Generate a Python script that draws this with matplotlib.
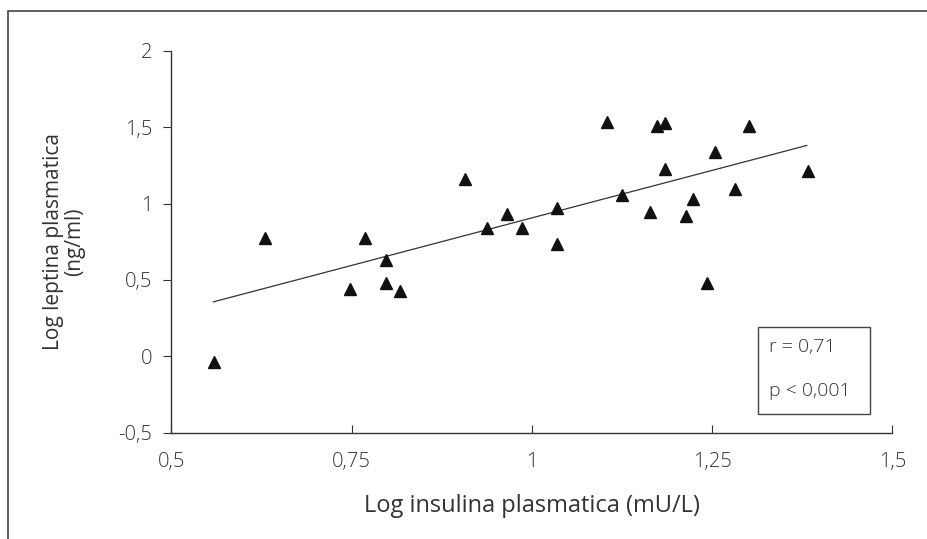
import matplotlib
matplotlib.use('Agg')
import matplotlib.pyplot as plt
from matplotlib.patches import Rectangle
from matplotlib.ticker import FuncFormatter

# data
insulina = [0.559, 0.630, 0.747, 0.768, 0.798, 0.798, 0.817, 0.907, 0.937, 0.966,
            0.986, 1.035, 1.035, 1.104, 1.125, 1.164, 1.174, 1.184, 1.184, 1.214,
            1.223, 1.243, 1.254, 1.282, 1.301, 1.383]
leptina = [-0.041, 0.774, 0.438, 0.774, 0.630, 0.481, 0.427, 1.159, 0.842, 0.934,
           0.842, 0.974, 0.734, 1.535, 1.055, 0.948, 1.509, 1.525, 1.227, 0.919,
           1.029, 0.480, 1.335, 1.094, 1.509, 1.214]
trend_x = [0.558, 1.381]
trend_y = [0.356, 1.381]
x_ticks = [0.5, 0.75, 1, 1.25, 1.5]
y_ticks = [-0.5, 0, 0.5, 1, 1.5, 2]
stats = ['r = 0,71', 'p < 0,001']

plt.rcParams['font.family'] = ['Open Sans', 'DejaVu Sans']
plt.rcParams['font.weight'] = 'light'

W, H = 928, 539
fig = plt.figure(figsize=(W / 100, H / 100), dpi=100)
fig.patches.append(Rectangle((8.5 / W, -0.01), 1.2, (H - 10.5) / H + 0.01,
                             transform=fig.transFigure, fill=False,
                             edgecolor='#444444', linewidth=1.2))

ax = fig.add_axes([171.5 / W, (H - 432.5) / H, 721 / W, 381.5 / H])
ax.plot(trend_x, trend_y, color='#333333', linewidth=0.9)
ax.plot(insulina, leptina, linestyle='none', marker='^', markersize=8,
        color='#111111')

ax.set_xlim(0.5, 1.5)
ax.set_ylim(-0.5, 2)
ax.set_xticks(x_ticks)
ax.set_yticks(y_ticks)
fmt = FuncFormatter(lambda v, p: ('%g' % v).replace('.', ','))
ax.xaxis.set_major_formatter(fmt)
ax.yaxis.set_major_formatter(fmt)

for s in ['top', 'right']:
    ax.spines[s].set_visible(False)
for s in ['left', 'bottom']:
    ax.spines[s].set_color('#333333')
    ax.spines[s].set_linewidth(1.0)

ax.tick_params(axis='x', direction='in', length=6, color='#333333',
               labelsize=14.5, labelcolor='#333333', pad=14)
ax.tick_params(axis='y', direction='out', length=6, color='#333333',
               labelsize=14.5, labelcolor='#333333', pad=8)

ax.set_xlabel('Log insulina plasmatica (mU/L)', fontsize=17, color='#333333',
              labelpad=16)
ax.set_ylabel('Log leptina plasmatica\n(ng/ml)', fontsize=15, color='#333333',
              labelpad=24, linespacing=1.0)

ax.add_patch(Rectangle((586.8 / 721, 18.5 / 381.5), 111.7 / 721, 87.3 / 381.5,
                       transform=ax.transAxes, fill=False,
                       edgecolor='#444444', linewidth=1.0))
ax.text(598 / 721, 85 / 381.5, stats[0], transform=ax.transAxes,
        fontsize=14, color='#333333', va='center', ha='left')
ax.text(598 / 721, 42 / 381.5, stats[1], transform=ax.transAxes,
        fontsize=14, color='#333333', va='center', ha='left')

fig.savefig('out.png', dpi=100)
